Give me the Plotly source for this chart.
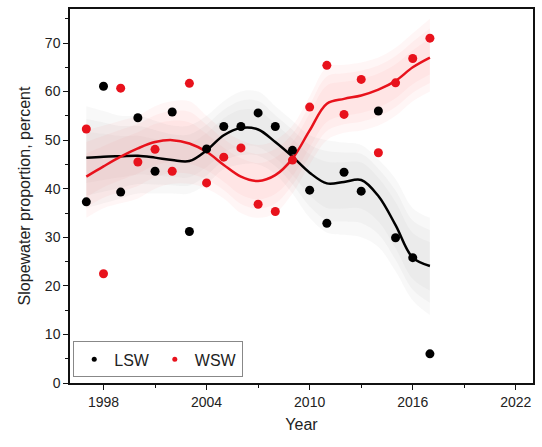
import plotly.graph_objects as go

# Annual observations, 1997-2017
years = list(range(1997, 2018))
lsw = [37.3, 61.1, 39.3, 54.6, 43.6, 55.8, 31.2, 48.2, 52.8, 52.8, 55.6,
       52.8, 47.9, 39.7, 32.9, 43.4, 39.5, 56.0, 29.9, 25.8, 6.0]
wsw = [52.3, 22.5, 60.7, 45.5, 48.1, 43.6, 61.7, 41.2, 46.5, 48.4, 36.8,
       35.3, 45.9, 56.8, 65.4, 55.3, 62.5, 47.4, 61.8, 66.8, 71.0]

# Smoothed trends and their confidence limits
lsw_fit = [46.4, 46.6, 46.7, 46.8, 46.4, 45.9, 45.7, 47.9, 51.0, 52.5, 52.2,
           49.6, 46.6, 43.3, 41.1, 41.4, 41.8, 38.5, 32.5, 25.8, 24.1]
lsw_lo = [36, 37, 38, 39, 39, 39, 39, 41, 44, 45, 45,
          43, 39, 34, 31, 30.5, 30, 28, 23, 17, 14]
lsw_hi = [57, 56, 55, 55, 54, 53, 53, 55, 58, 60, 60,
          57, 54, 51, 50, 49.5, 49, 46, 42, 36, 34]

wsw_fit = [42.5, 44.6, 46.6, 48.3, 49.6, 50.0, 49.3, 47.6, 44.9, 42.5, 41.6,
           42.8, 46.2, 52.0, 57.5, 58.5, 59.2, 60.4, 62.2, 65.0, 67.0]
wsw_lo = [34, 36, 37, 38, 40, 41, 41, 40, 38, 35, 34,
          35, 39, 45, 50, 51.5, 52, 53, 55, 58, 60]
wsw_hi = [52, 53, 54, 55, 57, 58, 58, 55, 52, 50, 49,
          50, 53, 59, 65, 65.5, 66, 67, 69, 72, 75]

BLACK = "#000000"
RED = "#e8121c"

fig = go.Figure()


def add_band(lo, hi, fit, rgb):
    # soft-edged band: translucent layers, narrower toward the trend
    for frac, alpha in [(1.0, 0.06), (0.75, 0.06), (0.5, 0.05)]:
        up = [c + (h - c) * frac for c, h in zip(fit, hi)]
        dn = [c - (c - l) * frac for c, l in zip(fit, lo)]
        fig.add_trace(go.Scatter(
            x=years, y=dn, mode="lines",
            line=dict(width=0, shape="spline"),
            hoverinfo="skip", showlegend=False))
        fig.add_trace(go.Scatter(
            x=years, y=up, mode="lines", fill="tonexty",
            line=dict(width=0, shape="spline"),
            fillcolor=f"rgba({rgb},{alpha})",
            hoverinfo="skip", showlegend=False))


add_band(lsw_lo, lsw_hi, lsw_fit, "130,130,130")
add_band(wsw_lo, wsw_hi, wsw_fit, "255,100,100")

fig.add_trace(go.Scatter(x=years, y=lsw_fit, mode="lines",
                         line=dict(color=BLACK, width=2.5, shape="spline"),
                         showlegend=False))
fig.add_trace(go.Scatter(x=years, y=wsw_fit, mode="lines",
                         line=dict(color=RED, width=2.5, shape="spline"),
                         showlegend=False))

fig.add_trace(go.Scatter(x=years, y=lsw, mode="markers",
                         marker=dict(color=BLACK, size=9), showlegend=False))
fig.add_trace(go.Scatter(x=years, y=wsw, mode="markers",
                         marker=dict(color=RED, size=9), showlegend=False))

# small legend symbols
fig.add_trace(go.Scatter(x=[None], y=[None], mode="markers", name="LSW",
                         marker=dict(color=BLACK, size=5)))
fig.add_trace(go.Scatter(x=[None], y=[None], mode="markers", name="WSW",
                         marker=dict(color=RED, size=5)))

axis_font = dict(family="Arial, Liberation Sans, sans-serif", size=14, color="#222")

fig.update_layout(
    width=542, height=447,
    margin=dict(l=70, r=9, t=7, b=64),
    paper_bgcolor="white", plot_bgcolor="white",
    font=dict(family="Arial, Liberation Sans, sans-serif", color="#222"),
    showlegend=True,
    legend=dict(
        orientation="h", x=0.007, y=0.015, xanchor="left", yanchor="bottom",
        bgcolor="rgba(255,255,255,0.6)", bordercolor="#888", borderwidth=1,
        font=dict(size=16, color="#222"), itemwidth=30,
        traceorder="normal",
    ),
    xaxis=dict(
        range=[1996.05, 2023.0], tick0=1998, dtick=6,
        showline=True, linecolor="#111", linewidth=1.5, mirror=True,
        ticks="outside", ticklen=5, tickwidth=1.2, tickcolor="#111",
        minor=dict(dtick=3, tick0=1998, ticks="outside", ticklen=3,
                   tickcolor="#111", showgrid=False),
        showgrid=False, zeroline=False, tickfont=axis_font,
        title=dict(text="Year", font=dict(size=16, color="#222"), standoff=10),
    ),
    yaxis=dict(
        range=[0, 77], tick0=0, dtick=10,
        showline=True, linecolor="#111", linewidth=1.5, mirror=True,
        ticks="outside", ticklen=5, tickwidth=1.2, tickcolor="#111",
        minor=dict(dtick=5, ticks="outside", ticklen=3,
                   tickcolor="#111", showgrid=False),
        showgrid=False, zeroline=False, tickfont=axis_font,
        title=dict(text="Slopewater proportion, percent",
                   font=dict(size=16, color="#222"), standoff=10),
    ),
)

fig.write_html("out.html")
